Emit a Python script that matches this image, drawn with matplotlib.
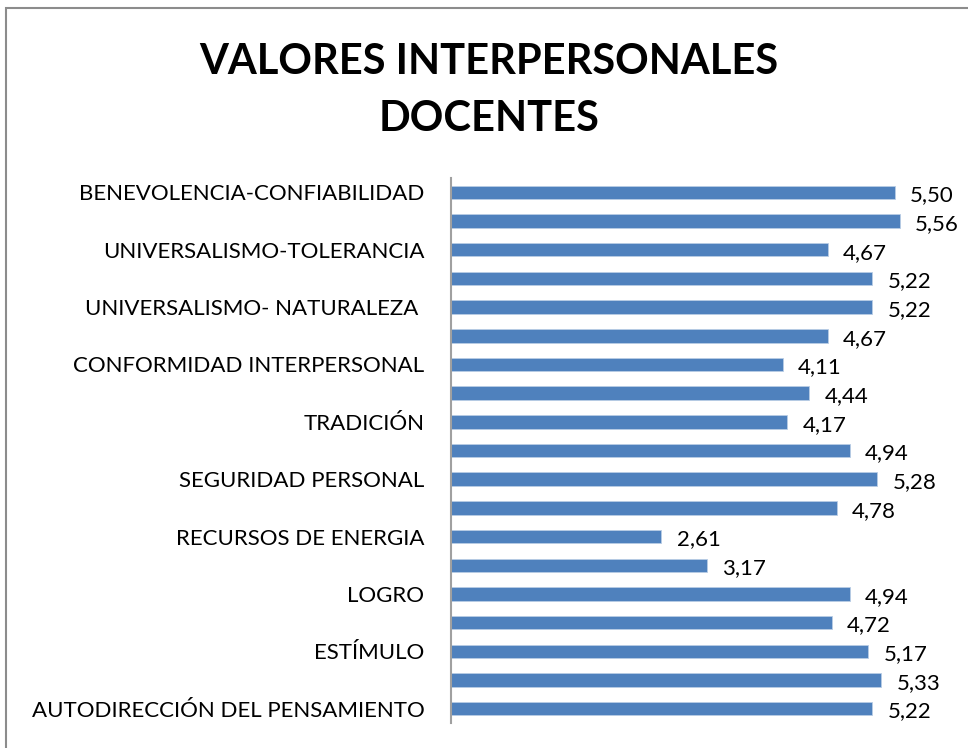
import matplotlib.pyplot as plt
from matplotlib.patches import Rectangle

# categories top to bottom, only every other label is visible in the chart
categorias = ['BENEVOLENCIA-CONFIABILIDAD', '', 'UNIVERSALISMO-TOLERANCIA', '',
              'UNIVERSALISMO- NATURALEZA ', '', 'CONFORMIDAD INTERPERSONAL', '',
              'TRADICIÓN', '', 'SEGURIDAD PERSONAL', '', 'RECURSOS DE ENERGIA', '',
              'LOGRO', '', 'ESTÍMULO', '', 'AUTODIRECCIÓN DEL PENSAMIENTO']
valores = [5.50, 5.56, 4.67, 5.22, 5.22, 4.67, 4.11, 4.44, 4.17, 4.94,
           5.28, 4.78, 2.61, 3.17, 4.94, 4.72, 5.17, 5.33, 5.22]

titulo = 'VALORES INTERPERSONALES\nDOCENTES'
azul = '#4F81BD'

plt.rcParams['font.family'] = ['Lato', 'DejaVu Sans']

fig = plt.figure(figsize=(9.68, 7.48), dpi=100)
ax = fig.add_axes([0.4656, 0.0334, 0.5004, 0.7286])

pos = list(range(len(valores)))
ax.barh(pos, valores, height=0.47, color=azul, edgecolor='#B9CDE5', linewidth=0.6)

for y, v in zip(pos, valores):
    ax.text(v + 0.19, y + 0.1, f'{v:.2f}'.replace('.', ','), va='center', ha='left',
            fontsize=16, color='black')

ax.set_xlim(0, 6)
ax.set_ylim(len(valores) - 0.5, -0.5)
ax.set_yticks(pos)
ax.set_yticklabels(categorias, fontsize=16)
ax.tick_params(axis='y', length=0, pad=19)
ax.set_xticks([])

for s in ['top', 'right', 'bottom']:
    ax.spines[s].set_visible(False)
ax.spines['left'].set_color('#A0A0A0')
ax.spines['left'].set_linewidth(1.5)

fig.text(0.505, 0.879, titulo, ha='center', va='center', fontsize=30,
         fontweight='bold', linespacing=1.6)

# chart frame
fig.patches.append(Rectangle((6 / 968, -0.1), 1.2, 1.1 - 8 / 748, transform=fig.transFigure,
                             fill=False, edgecolor='#8C8C8C', linewidth=1.5))

plt.savefig('out.png', dpi=100)
